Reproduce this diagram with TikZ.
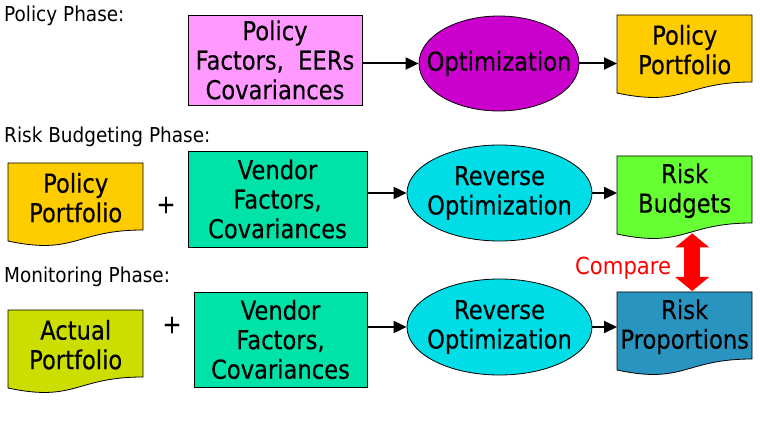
\documentclass[tikz,border=0pt]{standalone}
\usepackage{fontspec}
\setmainfont[FakeStretch=0.9]{DejaVu Sans}
\newfontfamily\boxfont[FakeStretch=0.87,FakeBold=0.3]{DejaVu Sans}
\usetikzlibrary{arrows.meta,shapes.geometric,calc}
\definecolor{cpink}{HTML}{FF99FF}
\definecolor{cmag}{HTML}{CC00CC}
\definecolor{cgold}{HTML}{FFCC00}
\definecolor{cmint}{HTML}{00E3A8}
\definecolor{ccyan}{HTML}{00DDE6}
\definecolor{clime}{HTML}{66FF33}
\definecolor{colive}{HTML}{CCDD00}
\definecolor{csteel}{HTML}{2994C0}
\newcommand\docshape[3]{%
  \filldraw[fill=#3, draw=black, line width=0.8pt, shift={(#1,#2)}]
    (0,0) -- (135,0) -- (135,67) .. controls (67.5,67) and (67.5,92.5) .. (0,78) -- cycle;}
\begin{document}
\begin{tikzpicture}[x=1pt,y=-1pt,
  lbl/.style={anchor=base west, inner sep=0pt, font=\fontsize{20.5}{24}\selectfont},
  txt/.style={font=\boxfont\fontsize{26}{29.5}\selectfont, align=center, inner sep=0pt},
  boxn/.style={txt, draw=black, line width=0.8pt},
  elln/.style={ellipse, draw=black, line width=0.8pt, inner sep=0pt},
  docn/.style={txt, anchor=north west, minimum width=135pt, minimum height=69pt},
  arr/.style={line width=2pt, -{Triangle[length=13pt,width=12pt]}},
  dblarr/.style={red, line width=16pt,
    {Triangle[length=14pt,width=34pt,line width=0pt]}-{Triangle[length=14pt,width=34pt,line width=0pt]}}]
\fill[white] (0,0) rectangle (760,438);
\useasboundingbox (0,0) rectangle (760,438);

% phase labels
\node[lbl] (lp1) at (4,22) {Policy Phase:};
\node[lbl] (lp2) at (4,143) {Risk Budgeting Phase:};
\node[lbl] (lp3) at (4,283) {Monitoring Phase:};

% row 1
\node[boxn, fill=cpink, minimum width=174pt, minimum height=90pt] (box1) at (275,60)
  {Policy\\Factors,\ \ EERs\\Covariances};
\node[elln, fill=cmag, minimum width=160pt, minimum height=95pt] (ell1) at (499,63.5) {};
\node[txt] (ell1t) at (ell1) {Optimization};
\docshape{617}{15}{cgold}
\node[docn] (pp1) at (617,15) {Policy\\Portfolio};

% row 2
\docshape{8}{163}{cgold}
\node[docn] (pp2) at (8,163) {Policy\\Portfolio};
\node[txt] (plus2) at (166,205) {+};
\node[boxn, fill=cmint, minimum width=179pt, minimum height=96pt] (vend2) at (277.5,199)
  {Vendor\\Factors,\\Covariances};
\node[elln, fill=ccyan, minimum width=185pt, minimum height=96pt] (ell2) at (499.5,193) {};
\node[txt] (ell2t) at (ell2) {Reverse\\Optimization};
\docshape{617}{156}{clime}
\node[docn] (rb) at (617,156) {Risk\\Budgets};

% row 3
\docshape{8}{310}{colive}
\node[docn] (ap) at (8,310) {Actual\\Portfolio};
\node[txt] (plus3) at (172,325) {+};
\node[boxn, fill=cmint, minimum width=173pt, minimum height=95pt] (vend3) at (280.5,339.5)
  {Vendor\\Factors,\\Covariances};
\node[elln, fill=ccyan, minimum width=185pt, minimum height=96pt] (ell3) at (499.5,327) {};
\node[txt] (ell3t) at (ell3) {Reverse\\Optimization};
\docshape{617}{292}{csteel}
\node[docn] (rp) at (617,292) {Risk\\Proportions};

% connectors
\draw[arr] (ell1.west -| box1.east) -- (ell1.west);
\draw[arr] (ell1.east) -- (ell1.east -| pp1.west);
\draw[arr] (ell2.west -| vend2.east) -- (ell2.west);
\draw[arr] (ell2.east) -- (ell2.east -| rb.west);
\draw[arr] (ell3.west -| vend3.east) -- (ell3.west);
\draw[arr] (ell3.east) -- (ell3.east -| rp.west);

% compare
\draw[dblarr] ([xshift=7.5pt,yshift=-8pt]rb.south) -- ([xshift=7.5pt,yshift=1pt]rp.north);
\node[anchor=base west, inner sep=0pt, text=red, font=\fontsize{23.5}{27}\selectfont] (cmp) at (575,275) {Compare};
\end{tikzpicture}
\end{document}
